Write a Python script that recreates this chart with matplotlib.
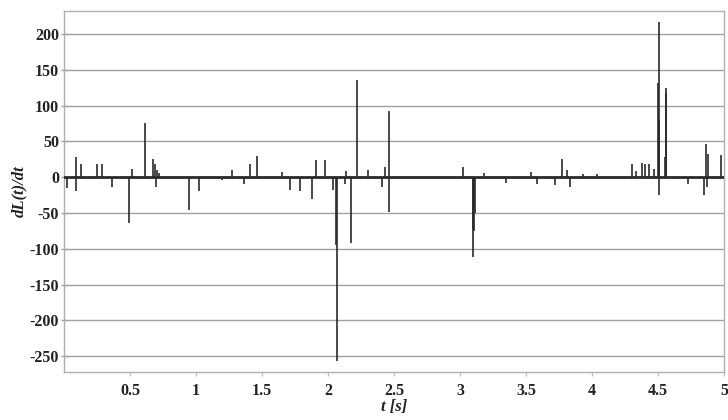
import matplotlib
matplotlib.use("Agg")
import matplotlib.pyplot as plt

# Spike events: time [s] and dL(t)/dt value
spike_t = [0.02, 0.088, 0.088, 0.13, 0.25, 0.286, 0.363, 0.49, 0.517, 0.612, 0.677, 0.69, 0.70, 0.705, 0.72,
           0.944, 1.025, 1.17, 1.20, 1.23, 1.27, 1.36, 1.41, 1.46, 1.65, 1.715, 1.785, 1.88, 1.91, 1.98,
           2.04, 2.062, 2.067, 2.13, 2.14, 2.175, 2.22, 2.30, 2.41, 2.43, 2.462, 2.465,
           3.02, 3.095, 3.10, 3.105, 3.11, 3.18, 3.35, 3.54, 3.58,
           3.72, 3.77, 3.81, 3.83, 3.93, 4.04, 4.30, 4.33, 4.38, 4.40, 4.43, 4.47,
           4.500, 4.504, 4.507, 4.51, 4.55, 4.560, 4.564, 4.73, 4.85, 4.86, 4.87, 4.875, 4.975]
spike_v = [-15, 28, -20, 19, 19, 19, -14, -64, 11, 75, 25, 18, -14, 10, 6,
           -46, -20, -3, -4, -3, 10, -10, 19, 29, 7, -18, -20, -30, 24, 24,
           -18, -95, -256, -9, 8, -92, 136, 10, -14, 14, -48, 92,
           14, -72, -111, -75, -50, 6, -8, 7, -10,
           -11, 26, 10, -14, 5, 5, 19, 8, 20, 19, 18, 12,
           131, 217, 80, -25, 28, 118, 124, -9, -25, 47, -14, 33, 31]

x_ticks = [0.5, 1, 1.5, 2, 2.5, 3, 3.5, 4, 4.5, 5]
x_tick_labels = ["0.5", "1", "1.5", "2", "2.5", "3", "3.5", "4", "4.5", "5"]
y_ticks = [200, 150, 100, 50, 0, -50, -100, -150, -200, -250]

plt.rcParams['font.family'] = ['Liberation Serif', 'DejaVu Serif']

fig = plt.figure(figsize=(7.28, 4.2), dpi=100)
ax = fig.add_axes([64/728, 1 - 372/420, 660/728, 361/420])

ax.set_xlim(0, 5.0)
ax.set_ylim(-272, 232)

for yv in y_ticks:
    ax.axhline(yv, color="#a0a0a0", lw=1.0, zorder=1)

ax.vlines(spike_t, 0, spike_v, color="#2a2a2a", lw=1.2, zorder=3)
ax.axhline(0, color="#2a2a2a", lw=2.0, zorder=4)

for s in ax.spines.values():
    s.set_color("#b0b0b0")
    s.set_linewidth(1.0)

ax.set_xticks(x_ticks)
ax.set_xticklabels(x_tick_labels)
ax.set_yticks(y_ticks)
ax.set_yticklabels([str(v) for v in y_ticks])
ax.tick_params(axis='y', direction='inout', length=5, width=1, color="#a0a0a0", pad=1,
               labelsize=11.5, labelcolor="#222222")
ax.tick_params(axis='x', direction='out', length=3, width=1, color="#c0c0c0", pad=5,
               labelsize=11.5, labelcolor="#222222")
for lab in ax.get_xticklabels() + ax.get_yticklabels():
    lab.set_fontweight("bold")

ax.set_xlabel("t [s]", fontsize=12, fontstyle="italic", fontweight="bold", color="#222222", labelpad=0)
ax.set_ylabel("dL(t)/dt", fontsize=12, fontstyle="italic", fontweight="bold", color="#222222", labelpad=2)

fig.savefig("out.png", dpi=100)
